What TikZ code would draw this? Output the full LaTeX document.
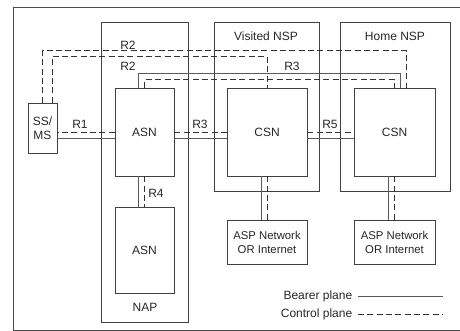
\documentclass[tikz,border=0pt]{standalone}
\usepackage{fontspec}
\setmainfont{Liberation Sans}
\usetikzlibrary{positioning,calc}

\begin{document}
\begin{tikzpicture}[
    x=0.75pt, y=-0.75pt,
    line width=0.6pt,
    every node/.style={font=\fontsize{9}{10.5}\selectfont, text=black!85},
    element/.style={rectangle, draw=black!75, inner sep=1pt, align=center},
    asn/.style={element, minimum width=44.25pt, minimum height=66pt},
    csn/.style={element, minimum width=60pt, minimum height=66pt},
    asp/.style={element, minimum width=60pt, minimum height=33pt, font=\fontsize{8.5}{10.5}\selectfont},
    nspbox/.style={rectangle, draw=black!75, minimum height=126.75pt},
    bearer/.style={draw=black!65},
    control/.style={draw=black!80, dash pattern=on 4.5pt off 2.5pt},
    tag/.style={inner sep=1pt}
]
\useasboundingbox (0,0) rectangle (460,331);

% Frame
\draw[black!70] (466,7) -- (13,7) -- (13,330) -- (466,330);

% Domains
\node[rectangle, draw=black!75, minimum width=65.25pt, minimum height=225pt] (nap) at (144.5,172) {};
\node[nspbox, minimum width=78.75pt] (visited_nsp) at (266.5,106.5) {};
\node[nspbox, minimum width=82.5pt] (home_nsp) at (395,106.5) {};
\node[tag] (nap_label) at (145,307) {NAP};
\node[tag] (visited_label) at (266,36) {Visited NSP};
\node[tag] (home_label) at (395,36) {Home NSP};

% Elements
\node[element, minimum width=21.75pt, minimum height=37.5pt] (ss_ms) at (42.5,128) {SS/\\MS};
\node[asn] (asn_upper) at (144.5,132) {ASN};
\node[asn, minimum height=64.5pt] (asn_lower) [below=23.25pt of asn_upper] {ASN};
\node[csn] (csn_visited) at (267,132) {CSN};
\node[csn, minimum width=60.75pt] (csn_home) at (394.5,132) {CSN};
\node[asp] (asp_visited) [below=33pt of csn_visited] {ASP Network\\OR Internet};
\node[asp, minimum width=60.75pt] (asp_home) [below=33pt of csn_home] {ASP Network\\OR Internet};

% R1, R3, R5
\draw[control] (asn_upper.west) -- (asn_upper.west -| ss_ms.east);
\draw[bearer] ($(asn_upper.west)+(0,6)$) -- ($(asn_upper.west -| ss_ms.east)+(0,6)$);
\draw[control] (asn_upper.east) -- (csn_visited.west);
\draw[bearer] ($(asn_upper.east)+(0,6)$) -- ($(csn_visited.west)+(0,6)$);
\draw[control] (csn_visited.east) -- (csn_home.west);
\draw[bearer] ($(csn_visited.east)+(0,6)$) -- ($(csn_home.west)+(0,6)$);

% R2
\draw[control] (ss_ms.north) -- ++(0,-52) -| ($(csn_home.north)+(12,0)$);
\draw[control] ($(ss_ms.north)+(9.5,0)$) -- ++(0,-46) -| (csn_visited.north);

% R3 over the top
\draw[bearer] ($(asn_upper.north)+(-6,0)$) -- ++(0,-14) -| ($(csn_home.north)+(6,0)$);
\draw[control] (asn_upper.north) -- ++(0,-8) -| (csn_home.north);

% R4 and CSN to ASP
\draw[bearer] ($(asn_upper.south)+(-6,0)$) -- ($(asn_lower.north)+(-6,0)$);
\draw[control] (asn_upper.south) -- (asn_lower.north);
\draw[bearer] ($(csn_visited.south)+(-6,0)$) -- ($(asp_visited.north)+(-6,0)$);
\draw[control] (csn_visited.south) -- (asp_visited.north);
\draw[bearer] ($(csn_home.south)+(-6,0)$) -- ($(asp_home.north)+(-6,0)$);
\draw[control] (csn_home.south) -- (asp_home.north);

% Labels
\node[tag] (r1_label) at (80,124) {R1};
\node[tag] (r3_label) at (200,124) {R3};
\node[tag] (r5_label) at (330,124) {R5};
\node[tag] (r2_outer_label) at (128,45) {R2};
\node[tag] (r2_inner_label) at (128,66) {R2};
\node[tag] (r3_top_label) at (292,66) {R3};
\node[tag] (r4_label) at (156,193) {R4};

% Legend
\node[tag, anchor=east] (bearer_text) at (354,296) {Bearer plane};
\node[tag, anchor=east] (control_text) at (354,314) {Control plane};
\coordinate (bearer_end) at (443,296);
\coordinate (control_end) at (443,314);
\draw[bearer] ([xshift=3pt]bearer_text.east) -- (bearer_end);
\draw[control] ([xshift=3pt]control_text.east) -- (control_end);

\end{tikzpicture}
\end{document}
